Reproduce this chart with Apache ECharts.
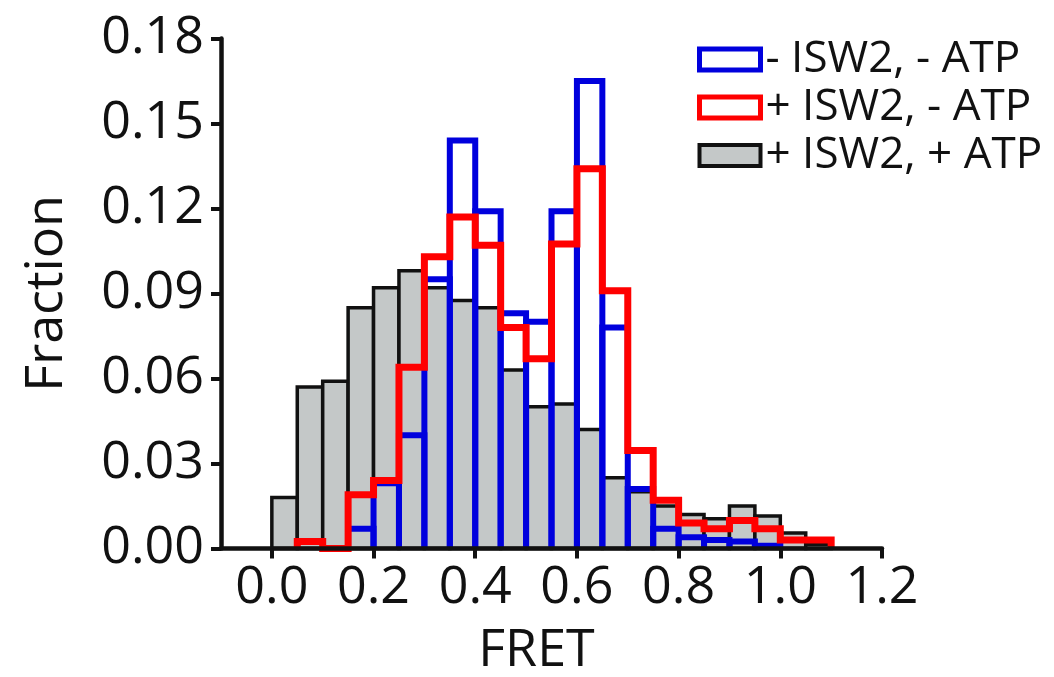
<!DOCTYPE html>
<html><head><meta charset="utf-8">
<script src="https://cdn.jsdelivr.net/npm/echarts@6/dist/echarts.min.js"></script>
<style>html,body{margin:0;padding:0;background:#fff}#c{width:1054px;height:677px}</style>
</head><body><div id="c"></div>
<script>
// Histogram bins: start of first bin and bin width (FRET units)
const binStart = 0.0;
const binWidth = 0.05;
const seriesNames = ['- ISW2, - ATP', '+ ISW2, - ATP', '+ ISW2, + ATP'];
// Fraction per bin (bins 0.00-0.05, 0.05-0.10, ... 1.05-1.10)
const minusIswMinusAtp = [0, 0, 0, 0.007, 0.023, 0.040, 0.095, 0.144, 0.119, 0.083, 0.080, 0.119, 0.165, 0.078, 0.021, 0.007, 0.004, 0.003, 0.0025, 0.001, 0, 0];
const plusIswMinusAtp  = [0, 0.0025, 0, 0.019, 0.024, 0.064, 0.103, 0.117, 0.107, 0.078, 0.067, 0.1075, 0.134, 0.091, 0.0346, 0.017, 0.009, 0.007, 0.0099, 0.007, 0.003, 0.003];
const plusIswPlusAtp   = [0.018, 0.057, 0.059, 0.085, 0.092, 0.098, 0.092, 0.0875, 0.085, 0.063, 0.050, 0.051, 0.042, 0.025, 0.020, 0.015, 0.012, 0.0105, 0.015, 0.0115, 0.0055, 0.0015];
const xTicks = [0.0, 0.2, 0.4, 0.6, 0.8, 1.0, 1.2];
const yTicks = [0, 0.03, 0.06, 0.09, 0.12, 0.15, 0.18];

const FONT = 'Open Sans';
const BLUE = '#0000dd', RED = '#ff0000', GRAY = '#c4c8c8', BLACK = '#111111';

function toBins(arr) { return arr.map((v, i) => [binStart + i * binWidth, v]); }

function grayItem(params, api) {
  const x0 = api.value(0), v = api.value(1);
  if (!(v > 0)) return null;
  const p0 = api.coord([x0, v]);
  const p1 = api.coord([x0 + binWidth, 0]);
  return { type: 'rect', shape: { x: p0[0], y: p0[1], width: p1[0] - p0[0], height: p1[1] - p0[1] },
    style: { fill: GRAY, stroke: BLACK, lineWidth: 3.5 } };
}
function blueItem(params, api) {
  const x0 = api.value(0), v = api.value(1);
  if (!(v > 0)) return null;
  const p0 = api.coord([x0, v]);
  const p1 = api.coord([x0 + binWidth, 0]);
  return { type: 'polyline', shape: { points: [[p0[0], p1[1]], [p0[0], p0[1]], [p1[0], p0[1]], [p1[0], p1[1]]] },
    style: { fill: null, stroke: BLUE, lineWidth: 6, lineJoin: 'miter' } };
}
// step outline for red histogram
function stepPoints(arr) {
  let first = arr.findIndex(v => v > 0);
  let last = arr.length - 1;
  while (last > 0 && !(arr[last] > 0)) last--;
  const pts = [[binStart + first * binWidth, 0]];
  for (let i = first; i <= last; i++) pts.push([binStart + (i + 1) * binWidth, arr[i]]);
  pts.push([binStart + (last + 1) * binWidth, 0]);
  return pts;
}

const chart = echarts.init(document.getElementById('c'), null, { renderer: 'canvas' });
chart.setOption({
  backgroundColor: '#fff',
  animation: false,
  grid: { left: 221, right: 172, top: 38.5, bottom: 128.5, containLabel: false, outerBoundsMode: 'none' },
  legend: {
    orient: 'vertical', left: 697, top: 37, padding: 0,
    itemWidth: 61, itemHeight: 21, itemGap: 3, selectedMode: false,
    textStyle: { fontFamily: FONT, fontSize: 44, color: BLACK, lineHeight: 45 },
    data: [
      { name: seriesNames[0], icon: 'rect', itemStyle: { color: '#fff', borderColor: BLUE, borderWidth: 5 } },
      { name: seriesNames[1], icon: 'rect', itemStyle: { color: '#fff', borderColor: RED, borderWidth: 5 } },
      { name: seriesNames[2], icon: 'rect', itemStyle: { color: GRAY, borderColor: BLACK, borderWidth: 4 } }
    ]
  },
  xAxis: {
    type: 'value', min: -0.1, max: 1.2, z: 10,
    axisLine: { show: true, lineStyle: { color: BLACK, width: 4.5 } },
    axisTick: { show: true, customValues: xTicks, length: 10, lineStyle: { color: BLACK, width: 4 } },
    axisLabel: { customValues: xTicks, formatter: v => v.toFixed(1), fontFamily: FONT, fontSize: 52, color: BLACK, margin: 14 },
    splitLine: { show: false },
    name: 'FRET', nameLocation: 'middle', nameGap: 77,
    nameTextStyle: { fontFamily: FONT, fontSize: 52, color: BLACK, padding: [0, 30, 0, 0] }
  },
  yAxis: {
    type: 'value', min: 0, max: 0.18, z: 10,
    axisLine: { show: true, onZero: false, lineStyle: { color: BLACK, width: 4.5 } },
    axisTick: { show: true, customValues: yTicks, length: 10, lineStyle: { color: BLACK, width: 4 } },
    axisLabel: { customValues: yTicks, formatter: v => v.toFixed(2), fontFamily: FONT, fontSize: 52, color: BLACK, margin: 17 },
    splitLine: { show: false },
    name: 'Fraction', nameLocation: 'middle', nameGap: 148,
    nameTextStyle: { fontFamily: FONT, fontSize: 52, color: BLACK }
  },
  series: [
    { name: seriesNames[2], type: 'custom', z: 2, renderItem: grayItem, encode: { x: 0, y: 1 }, data: toBins(plusIswPlusAtp), itemStyle: { color: GRAY } },
    { name: seriesNames[0], type: 'custom', z: 3, renderItem: blueItem, encode: { x: 0, y: 1 }, data: toBins(minusIswMinusAtp), itemStyle: { color: BLUE } },
    { name: seriesNames[1], type: 'line', z: 4, step: 'start', symbol: 'none', data: stepPoints(plusIswMinusAtp),
      lineStyle: { color: RED, width: 7, join: 'miter' }, itemStyle: { color: RED } }
  ]
});
</script></body></html>
